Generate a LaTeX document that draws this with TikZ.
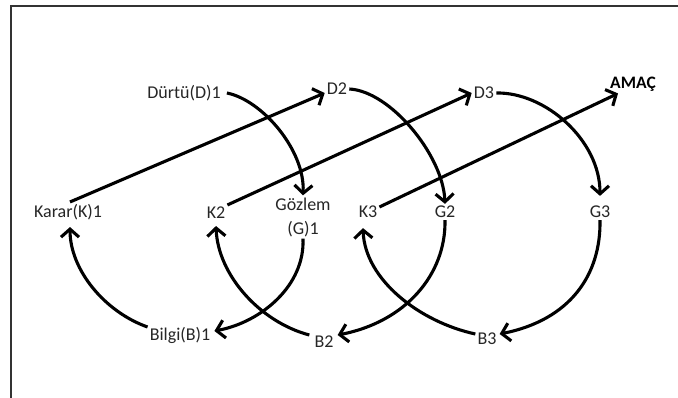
\documentclass[tikz,border=0pt]{standalone}
\usepackage{fontspec}
\setmainfont{Carlito}
\usetikzlibrary{arrows.meta}
\begin{document}
\begin{tikzpicture}[x=1pt,y=-1pt,
  lbl/.style={font=\fontsize{18}{24}\selectfont, inner sep=2pt, text=black!85},
  arr/.style={line width=3.1pt, -{Straight Barb[length=8pt,width=18pt]}}]
\useasboundingbox (0,0) rectangle (678,398);
\draw[line width=2pt, black!80] (11,398) -- (11,6) -- (678,6);
% nodes
\node[lbl] (D1) at (184,93) {Dürtü(D)1};
\node[lbl] (D2) at (337,89) {D2};
\node[lbl] (D3) at (484,93) {D3};
\node[lbl,font=\fontsize{17.5}{24}\selectfont\bfseries, text=black] (AM) at (633,84) {AMAÇ};
\node[lbl] (K1) at (68,212) {Karar(K)1};
\node[lbl] (K2) at (216,213) {K2};
\node[lbl,align=center] (G1) at (303,217) {Gözlem\\(G)1};
\node[lbl] (K3) at (368,212) {K3};
\node[lbl] (G2) at (445,212) {G2};
\node[lbl] (G3) at (600,212) {G3};
\node[lbl] (B1) at (180,335) {Bilgi(B)1};
\node[lbl] (B2) at (324,342) {B2};
\node[lbl] (B3) at (487,339) {B3};
% straight connectors
\draw[arr] ([xshift=2pt]K1.north) -- ([yshift=-4pt]D2.west);
\draw[arr] (K2.north east) -- (D3.west);
\draw[arr] ([yshift=5pt]K3.east) -- ([xshift=10pt]AM.south west);
% upper arcs
\draw[arr] ([xshift=4pt]D1.east) .. controls (262,100) and (305,150) .. (G1.north);
\draw[arr] (D2.east) .. controls (390,91) and (443,155) .. (G2.north);
\draw[arr] (D3.east) .. controls (545,92) and (600,140) .. ([yshift=8pt]G3.north);
% lower arcs
\draw[arr] (G1.south) .. controls (305,285) and (262,322) .. ([xshift=2pt,yshift=4pt]B1.east);
\draw[arr] (G2.south) .. controls (446,275) and (405,322) .. ([xshift=2pt,yshift=7pt]B2.east);
\draw[arr] (G3.south) .. controls (601,275) and (570,320) .. ([xshift=1pt,yshift=5pt]B3.east);
\draw[arr] ([yshift=8pt]B1.west) .. controls (105,312) and (70,270) .. ([xshift=2pt,yshift=-5pt]K1.south);
\draw[arr] ([xshift=-3pt,yshift=7pt]B2.west) .. controls (260,322) and (218,275) .. ([yshift=-5pt]K2.south);
\draw[arr] ([yshift=5pt]B3.west) .. controls (420,322) and (365,280) .. ([xshift=-5pt,yshift=-8pt]K3.south);
\end{tikzpicture}
\end{document}
